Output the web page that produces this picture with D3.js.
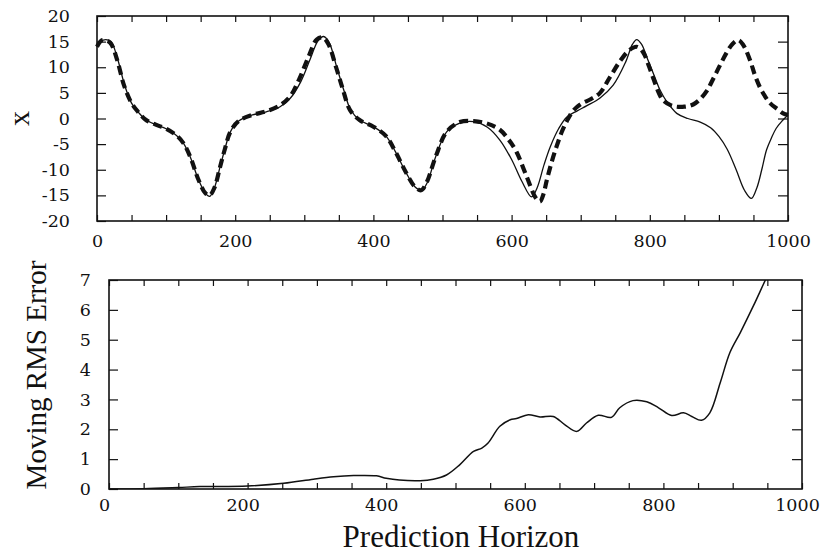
<!DOCTYPE html>
<meta charset="utf-8">
<style>
  body { margin: 0; background: #fff; }
  svg text { font-family: "Liberation Serif", "Times New Roman", serif; fill: #111; }
  .tick line { stroke: #111; stroke-width: 1.2; }
  .frame { fill: none; stroke: #111; stroke-width: 1.6; }
</style>
<body>
<script src="https://d3js.org/d3.v7.min.js"></script>
<script>

// Time steps and values
const trueT = [0, 9, 20, 30, 40, 50, 60, 70, 85, 100, 115, 125, 135, 147, 157, 163, 170, 178, 185, 193, 205, 225, 245, 265, 280, 295, 308, 320, 328, 336, 347, 357, 367, 380, 400, 418, 432, 447, 460, 470, 478, 490, 506, 525, 545, 565, 583, 600, 615, 629, 637, 647, 656, 668, 680, 695, 709, 728, 747, 765, 775, 781, 788, 797, 806, 815, 824, 839, 855, 873, 888, 900, 912, 925, 937, 947, 955, 962, 969, 976, 983, 992, 1000];
const trueX = [14, 15.3, 15, 11.5, 6.5, 3, 1.2, -0.2, -1.2, -2, -3.3, -4.8, -7.5, -12, -14.6, -15.2, -13.5, -9.5, -6, -2.6, -0.5, 0.7, 1.3, 2.3, 4, 7.2, 11.4, 15.2, 16, 14.8, 10, 5.6, 1.7, -0.3, -1.6, -3.4, -6.5, -10.5, -13.3, -14, -12.5, -7.5, -2.6, -0.9, -0.6, -1.7, -4.2, -8, -12.3, -15.3, -13.5, -9, -5.5, -2, 0.3, 1.5, 2.5, 4, 6.5, 11, 14.5, 15.4, 14.5, 11.5, 8.5, 5.5, 3.4, 1, 0, -0.7, -1.8, -3.5, -6, -10, -14, -15.6, -13.5, -10, -6.1, -3.8, -1.9, -0.4, 0.7];

const predT = [0, 8, 19, 29, 39, 50, 60, 70, 85, 100, 115, 125, 135, 147, 157, 163, 170, 178, 185, 193, 205, 225, 245, 265, 280, 293, 306, 318, 327, 335, 346, 356, 366, 380, 400, 418, 432, 447, 460, 469, 477, 490, 506, 525, 545, 565, 583, 595, 607, 622, 635, 641, 646, 651, 658, 665, 673, 680, 689, 700, 715, 728, 742, 757, 770, 781, 790, 798, 806, 813, 819, 830, 839, 850, 858, 866, 873, 883, 892, 902, 911, 920, 928, 935, 945, 952, 959, 966, 974, 985, 993, 1000];
const predX = [14, 15.3, 14.8, 11.5, 6.5, 3, 1.2, -0.2, -1.2, -2, -3.3, -4.8, -7.5, -12, -14.6, -15, -13.5, -9.5, -6, -2.6, -0.5, 0.7, 1.4, 2.6, 4.4, 7.8, 12, 15.4, 15.8, 14.5, 10, 5.6, 1.7, -0.3, -1.6, -3.4, -6.5, -10.5, -13.3, -14, -12.5, -7.5, -2.6, -0.7, -0.5, -1, -2.2, -4, -6.5, -11.4, -15.5, -16.2, -14.8, -12, -8.5, -5.5, -2.5, -0.5, 1.5, 2.8, 3.8, 5, 8, 11.2, 13.3, 14, 13, 10.5, 7.5, 5, 3.6, 2.6, 2.3, 2.3, 2.5, 3, 3.8, 5.5, 7.8, 10.5, 12.8, 14.6, 15.3, 14.4, 11.4, 8.5, 6.2, 4.5, 3, 1.8, 1, 0.7];

const rmsT = [0, 50, 100, 131, 200, 252, 295, 324, 353, 386, 400, 419, 449, 468, 487, 506, 526, 538, 547, 564, 579, 588, 605, 622, 641, 658, 675, 689, 706, 725, 737, 756, 776, 793, 812, 829, 841, 855, 867, 882, 896, 911, 930, 949, 960];
const rmsE = [0, 0.01, 0.05, 0.08, 0.1, 0.19, 0.33, 0.41, 0.45, 0.44, 0.36, 0.3, 0.28, 0.33, 0.47, 0.81, 1.26, 1.37, 1.54, 2.1, 2.32, 2.36, 2.49, 2.41, 2.43, 2.15, 1.93, 2.21, 2.47, 2.4, 2.72, 2.96, 2.92, 2.72, 2.46, 2.55, 2.43, 2.3, 2.55, 3.56, 4.57, 5.24, 6.14, 7.09, 7.6];

const xTicks = d3.range(0, 1001, 50);
const xLabels = [0, 200, 400, 600, 800, 1000];
const topYTicks = [-20, -15, -10, -5, 0, 5, 10, 15, 20];
const botYTicks = [0, 1, 2, 3, 4, 5, 6, 7];

const tickFont = '"DejaVu Serif", serif';

const svg = d3.select("body").append("svg")
    .attr("width", 822)
    .attr("height", 557);

// axis text: serif, like the scanned figure
function styleAxis(g) {
    g.select(".domain").remove();
    g.attr("font-family", tickFont).attr("font-size", 17);
    g.selectAll("text").style("font-family", tickFont).style("font-size", "17.5px");
}

// ---------- top panel ----------
const x1 = d3.scaleLinear().domain([0, 1000]).range([97, 788]);
const y1 = d3.scaleLinear().domain([-20, 20]).range([221, 16]);

const fmtX = d => xLabels.includes(d) ? d : "";

svg.append("g")
    .attr("transform", "translate(0," + y1(-20) + ")")
    .call(d3.axisBottom(x1).tickValues(xTicks).tickFormat(fmtX)
        .tickSize(-6).tickPadding(14))
    .call(styleAxis);

svg.append("g")
    .attr("transform", "translate(0," + y1(20) + ")")
    .call(d3.axisTop(x1).tickValues(xTicks).tickFormat("").tickSize(-6))
    .call(styleAxis);

svg.append("g")
    .attr("transform", "translate(" + x1(0) + ",0)")
    .call(d3.axisLeft(y1).tickValues(topYTicks).tickFormat(d => d)
        .tickSize(-9).tickPadding(27))
    .call(styleAxis);

svg.append("g")
    .attr("transform", "translate(" + x1(1000) + ",0)")
    .call(d3.axisRight(y1).tickValues(topYTicks.slice(1, -1)).tickFormat("").tickSize(-10))
    .call(styleAxis);

svg.append("rect").attr("class", "frame")
    .attr("x", x1(0)).attr("y", y1(20))
    .attr("width", x1(1000) - x1(0)).attr("height", y1(-20) - y1(20));

const line1 = d3.line().curve(d3.curveCatmullRom)
    .x(d => x1(d[0])).y(d => y1(d[1]));

svg.append("path")
    .datum(trueT.map((t, i) => [t, trueX[i]]))
    .attr("fill", "none").attr("stroke", "#111").attr("stroke-width", 1.3)
    .attr("d", line1);

svg.append("path")
    .datum(predT.map((t, i) => [t, predX[i]]))
    .attr("fill", "none").attr("stroke", "#111").attr("stroke-width", 4.2)
    .attr("stroke-dasharray", "9,5")
    .attr("d", line1);

svg.append("text")
    .attr("transform", "translate(20," + y1(0) + ") rotate(-90)")
    .attr("text-anchor", "middle")
    .attr("dy", "0.3em")
    .style("font-size", "30px")
    .text("x");

// ---------- bottom panel ----------
const x2 = d3.scaleLinear().domain([0, 1000]).range([109, 802]);
const y2 = d3.scaleLinear().domain([0, 7]).range([489, 280]);

svg.append("defs").append("clipPath").attr("id", "clip2")
  .append("rect").attr("x", x2(0)).attr("y", y2(7))
    .attr("width", x2(1000) - x2(0)).attr("height", y2(0) - y2(7));

svg.append("g")
    .attr("transform", "translate(0," + y2(0) + ")")
    .call(d3.axisBottom(x2).tickValues(xTicks).tickFormat(fmtX)
        .tickSize(-6).tickPadding(10))
    .call(styleAxis)
    .call(g => g.selectAll("text").attr("dx", -5));

svg.append("g")
    .attr("transform", "translate(0," + y2(7) + ")")
    .call(d3.axisTop(x2).tickValues(xTicks).tickFormat("").tickSize(-6))
    .call(styleAxis);

svg.append("g")
    .attr("transform", "translate(" + x2(0) + ",0)")
    .call(d3.axisLeft(y2).tickValues(botYTicks).tickFormat(d => d)
        .tickSize(-9).tickPadding(18))
    .call(styleAxis);

svg.append("g")
    .attr("transform", "translate(" + x2(1000) + ",0)")
    .call(d3.axisRight(y2).tickValues(botYTicks.slice(1, -1)).tickFormat("").tickSize(-10))
    .call(styleAxis);

svg.append("rect").attr("class", "frame")
    .attr("x", x2(0)).attr("y", y2(7))
    .attr("width", x2(1000) - x2(0)).attr("height", y2(0) - y2(7));

const line2 = d3.line().curve(d3.curveCatmullRom)
    .x(d => x2(d[0])).y(d => y2(d[1]));

svg.append("path")
    .datum(rmsT.map((t, i) => [t, rmsE[i]]))
    .attr("clip-path", "url(#clip2)")
    .attr("fill", "none").attr("stroke", "#111").attr("stroke-width", 1.5)
    .attr("d", line2);

svg.append("text")
    .attr("transform", "translate(46,375) rotate(-90)")
    .attr("text-anchor", "middle")
    .style("font-size", "29px")
    .text("Moving RMS Error");

svg.append("text")
    .attr("x", 461).attr("y", 547)
    .attr("text-anchor", "middle")
    .style("font-size", "31px")
    .text("Prediction Horizon");

</script>
</body>
